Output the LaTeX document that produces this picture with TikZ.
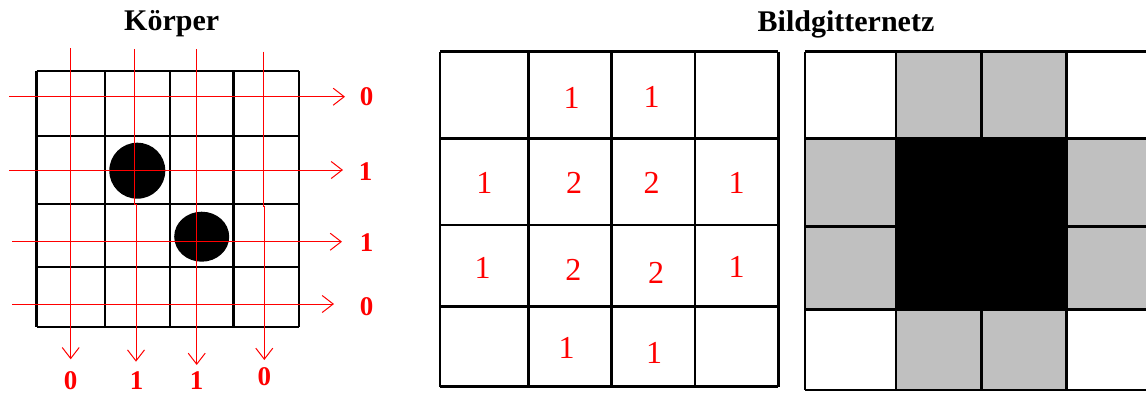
\documentclass[tikz,border=0pt]{standalone}
\usepackage{fontspec}
\setmainfont{Liberation Serif}
\usetikzlibrary{arrows.meta}
\definecolor{gray75}{HTML}{C0C0C0}
\tikzset{
  gridline/.style={line width=2.6pt, black},
  ray/.style={draw=red, line width=1pt, -{Straight Barb[length=11pt,width=17pt,line width=1pt]}},
  redlbl/.style={text=red, font=\fontsize{27}{27}\selectfont\bfseries, inner sep=0pt},
  numlbl/.style={text=red, font=\fontsize{32}{32}\selectfont, inner sep=0pt},
  title/.style={font=\fontsize{30}{30}\selectfont\bfseries, inner sep=0pt},
  greycell/.style={fill=gray75},
}
\begin{document}
\begin{tikzpicture}[x=1pt,y=-1pt]
\useasboundingbox (0,0) rectangle (1146,394);
\fill[white] (0,0) rectangle (1146,394);

% titles
\node[title] (t1) at (171.7,24) {Körper};
\node[title] (t2) at (846,24) {Bildgitternetz};

% ---------- left grid ----------
\fill (137.3,170.7) ellipse (28 and 28);
\fill (201.7,236.7) ellipse (27.5 and 25);
\foreach \x in {36.7,105,170,233.3,299} \draw[gridline] (\x,71) -- (\x,327);
\foreach \y in {71,136,204,267,327} \draw[gridline] (36.7,\y) -- (299,\y);

% rays
\coordinate (h1s) at (9.3,96.7);   \coordinate (h1e) at (345,96.7);
\coordinate (h2s) at (9.3,170);    \coordinate (h2e) at (343,170);
\coordinate (h3s) at (12.3,241.7); \coordinate (h3e) at (342,241.7);
\coordinate (h4s) at (12.3,304);   \coordinate (h4e) at (334,304);
\draw[ray] (h1s) -- (h1e);
\draw[ray] (h2s) -- (h2e);
\draw[ray] (h3s) -- (h3e);
\draw[ray] (h4s) -- (h4e);
\coordinate (v1s) at (70.7,48.3);  \coordinate (v1e) at (70.7,359.3);
\coordinate (v2s) at (134.7,49.3); \coordinate (v2e) at (136,361.7);
\coordinate (v3s) at (196.7,49.3); \coordinate (v3e) at (196.7,365);
\coordinate (v4s) at (263.3,51.7); \coordinate (v4e) at (264.3,360);
\draw[ray] (v1s) -- (v1e);
\draw[ray] (v2s) -- (134.7,204) -- (136,204) -- (v2e);
\draw[ray] (v3s) -- (v3e);
\draw[ray] (v4s) -- (263.3,206.7) -- (264.3,206.7) -- (v4e);

\node[redlbl] (r1) at (366.7,97) {0};
\node[redlbl] (r2) at (365.7,171.7) {1};
\node[redlbl] (r3) at (366.7,242.7) {1};
\node[redlbl] (r4) at (366.7,306.7) {0};
\node[redlbl] (b1) at (70.7,380.5) {0};
\node[redlbl] (b2) at (136.7,380.5) {1};
\node[redlbl] (b3) at (196.7,380.5) {1};
\node[redlbl] (b4) at (264.3,377) {0};

% ---------- middle grid ----------
\foreach \x in {440,528.3,611.7,695,778.3} \draw[gridline] (\x,51.7) -- (\x,386.7);
\foreach \y in {51.7,138.3,225,306.7,386.7} \draw[gridline] (440,\y) -- (778.3,\y);
\node[numlbl] (m12) at (571.7,98.3) {1};
\node[numlbl] (m13) at (651.7,96.7) {1};
\node[numlbl] (m21) at (484.3,183.3) {1};
\node[numlbl] (m22) at (574,183.3) {2};
\node[numlbl] (m23) at (651.7,183.3) {2};
\node[numlbl] (m24) at (736.7,183.3) {1};
\node[numlbl] (m31) at (482.7,268.3) {1};
\node[numlbl] (m32) at (573.3,270) {2};
\node[numlbl] (m33) at (656,273.3) {2};
\node[numlbl] (m34) at (736.7,266.7) {1};
\node[numlbl] (m42) at (566.7,348.3) {1};
\node[numlbl] (m43) at (654,353.3) {1};

% ---------- right grid ----------
\begin{scope}
\clip (790,40) rectangle (1146,394);
\fill[greycell] (896,51.7) rectangle (1066.7,138.3);
\fill[greycell] (896,309.3) rectangle (1066.7,390);
\fill[greycell] (805,138.3) rectangle (896,309.3);
\fill[greycell] (1066.7,138.3) rectangle (1152,309.3);
\fill[black] (896,138.3) rectangle (1066.7,309.3);
\foreach \x in {805,896,981.7,1066.7,1152} \draw[gridline] (\x,51.7) -- (\x,390);
\foreach \y in {51.7,138.3,226.7,309.3,390} \draw[gridline] (805,\y) -- (1152,\y);
\end{scope}
\end{tikzpicture}
\end{document}
